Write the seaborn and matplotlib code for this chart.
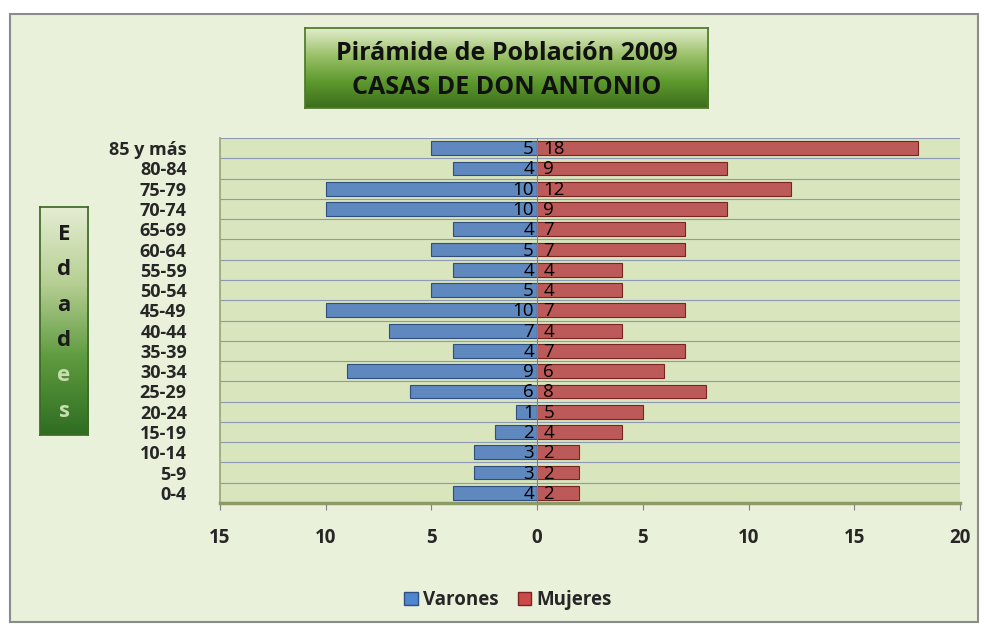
import numpy as np
import pandas as pd
import matplotlib
matplotlib.use("Agg")
import matplotlib.pyplot as plt
import seaborn as sns
from matplotlib.colors import LinearSegmentedColormap
from matplotlib.patches import Rectangle, Patch

# ---------------------------
# DATA
# ---------------------------
edades = ["85 y más", "80-84", "75-79", "70-74", "65-69", "60-64", "55-59",
          "50-54", "45-49", "40-44", "35-39", "30-34", "25-29", "20-24",
          "15-19", "10-14", "5-9", "0-4"]
varones = [5, 4, 10, 10, 4, 5, 4, 5, 10, 7, 4, 9, 6, 1, 2, 3, 3, 4]
mujeres = [18, 9, 12, 9, 7, 7, 4, 4, 7, 4, 7, 6, 8, 5, 4, 2, 2, 2]
x_ticks = [-15, -10, -5, 0, 5, 10, 15, 20]
x_labels = ["15", "10", "5", "0", "5", "10", "15", "20"]

df = pd.DataFrame({"Edad": edades,
                   "Varones": [-v for v in varones],
                   "Mujeres": mujeres})

# colours
bg = "#EAF1DA"
plot_bg = "#D9E5BC"
azul = "#4F86CF"
rojo = "#CC4A48"

sns.set_theme(style="white")
plt.rcParams['font.family'] = ['Open Sans', 'DejaVu Sans']

fig = plt.figure(figsize=(9.88, 6.3), dpi=100)
fig.patch.set_facecolor("white")

# chart frame (behind everything)
fig.patches.append(Rectangle((10 / 988, 8 / 630), 968 / 988, 608 / 630,
                             transform=fig.transFigure, facecolor=bg,
                             edgecolor="#8C8C8C", linewidth=1.5, zorder=-10))

ax = fig.add_axes([220 / 988, 1 - 503 / 630, 740 / 988, 365 / 630])
ax.set_facecolor(plot_bg)

sns.barplot(data=df, y="Edad", x="Varones", order=edades, color=azul,
            width=0.68, edgecolor="#2E4F80", linewidth=0.8, ax=ax, zorder=3)
sns.barplot(data=df, y="Edad", x="Mujeres", order=edades, color=rojo,
            width=0.68, edgecolor="#7A2422", linewidth=0.8, ax=ax, zorder=3)

# data labels
for i, (v, m) in enumerate(zip(varones, mujeres)):
    ax.text(-0.15, i + 0.05, str(v), ha="right", va="center", fontsize=13.5,
            color="black", zorder=5)
    ax.text(0.3, i + 0.05, str(m), ha="left", va="center", fontsize=13.5,
            color="black", zorder=5)

# row separators
for i in range(len(edades) + 1):
    ax.axhline(i - 0.5, color="#8E9AB5", linewidth=0.8, zorder=1)
ax.axvline(0, color="#7F7F7F", linewidth=0.8, zorder=4)

ax.set_xlim(-15, 20)
ax.set_ylim(len(edades) - 0.5, -0.5)
ax.set_xticks(x_ticks)
ax.set_xticklabels(x_labels, fontsize=13.5, fontweight="bold")
ax.tick_params(axis="x", length=5, width=0.8, color="#7F7F7F", pad=13, bottom=True)
ax.tick_params(axis="y", length=0, pad=24)
for lab in ax.get_yticklabels():
    lab.set_fontsize(13)
    lab.set_fontweight("bold")
ax.set_xlabel("")
ax.set_ylabel("")
for s in ["top", "right"]:
    ax.spines[s].set_visible(False)
ax.spines["left"].set_color("#9AA77A")
ax.spines["bottom"].set_color("#8C9A68")
ax.spines["bottom"].set_linewidth(2.5)

# title box
tax = fig.add_axes([305 / 988, 1 - 108 / 630, 403 / 988, 80 / 630])
grad = LinearSegmentedColormap.from_list("g", ["#E2EDCC", "#9CC16A", "#5E9A2E", "#3D6E1C"])
tax.imshow(np.linspace(0, 1, 100).reshape(-1, 1), aspect="auto", cmap=grad,
           extent=[0, 1, 0, 1])
tax.set_xlim(0, 1)
tax.set_ylim(0, 1)
tax.set_xticks([])
tax.set_yticks([])
for s in tax.spines.values():
    s.set_color("#4D7A2A")
tax.text(0.5, 0.68, "Pirámide de Población 2009", ha="center", va="center",
         fontsize=18, fontweight="bold", color="#111111")
tax.text(0.5, 0.26, "CASAS DE DON ANTONIO", ha="center", va="center",
         fontsize=18, fontweight="bold", color="#111111")

# Edades box
eax = fig.add_axes([40 / 988, 1 - 435 / 630, 48 / 988, 228 / 630])
grad2 = LinearSegmentedColormap.from_list("g2", ["#2F6E22", "#5E9A3E", "#B7CF94", "#E4EDD2"])
eax.imshow(np.linspace(0, 1, 100).reshape(-1, 1), aspect="auto", cmap=grad2,
           extent=[0, 1, 0, 1], origin="lower")
eax.set_xlim(0, 1)
eax.set_ylim(0, 1)
eax.set_xticks([])
eax.set_yticks([])
for s in eax.spines.values():
    s.set_color("#3E6A26")
letras = ["E", "d", "a", "d", "e", "s"]
for k, c in enumerate(letras):
    col = "#1A1A1A" if k < 4 else "#C8DDB0"
    eax.text(0.5, 0.88 - k * 0.155, c, ha="center", va="center",
             fontsize=16, fontweight="bold", color=col)

# legend
handles = [Patch(facecolor=azul, edgecolor="#2E4F80", label="Varones"),
           Patch(facecolor=rojo, edgecolor="#7A2422", label="Mujeres")]
leg = fig.legend(handles=handles, loc="center", bbox_to_anchor=(508 / 988, 1 - 600 / 630),
                 ncol=2, frameon=False, fontsize=13.5, handlelength=0.7,
                 handleheight=0.7, handletextpad=0.3, columnspacing=1.0)
for t in leg.get_texts():
    t.set_fontweight("bold")

fig.savefig("out.png", dpi=100)
